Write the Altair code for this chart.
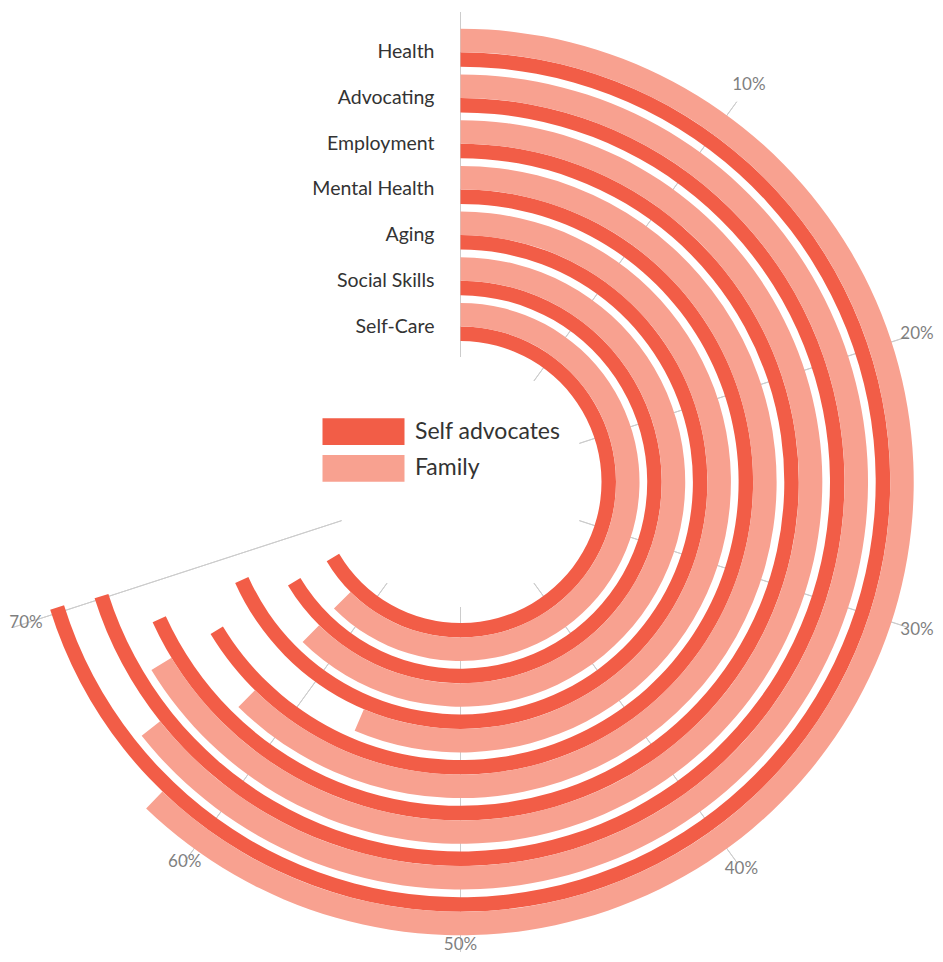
import altair as alt
import pandas as pd

# ---- data ----
categories = ["Health", "Advocating", "Employment", "Mental Health", "Aging", "Social Skills", "Self-Care"]
self_advocates = [70.2, 70.1, 68.2, 66.3, 68.3, 66.4, 66.5]
family = [62.2, 64.3, 66.3, 62.4, 56.4, 62.4, 62.5]
groups = ["Self advocates", "Family"]
grid_values = [0, 10, 20, 30, 40, 50, 60, 70]
tick_values = [10, 20, 30, 40, 50, 60, 70]

n = len(categories)
rows = []
for i, c in enumerate(categories):
    ring = n - 1 - i
    rows.append({"category": c, "group": groups[0], "value": self_advocates[i], "ring": ring})
    rows.append({"category": c, "group": groups[1], "value": family[i], "ring": ring})
bars = pd.DataFrame(rows)
cats = pd.DataFrame({"category": categories, "ring": [n - 1 - i for i in range(n)]})
grid = pd.DataFrame({"pct": grid_values})
ticks = pd.DataFrame({"pct": tick_values, "label": [f"{v}%" for v in tick_values]})
legend = pd.DataFrame({"group": groups})

# ---- layout / style ----
W, H = 927, 946
CX, CY = 452.5, 474
DARK_W = 0.317
LIGHT_END = 0.832
FONT = "Lato"

theta_scale = alt.Scale(domain=[0, 100], range=[0, 6.283185307179586])
radius_scale = alt.Scale(type="linear", domain=[0, n], range=[141, 141 + 45.7 * n])
color_scale = alt.Scale(domain=groups, range=["#F25D47", "#F8A190"])

grid_layer = alt.Chart(grid).mark_arc(stroke="#cccccc", strokeWidth=1, fill="#cccccc").encode(
    theta=alt.Theta("pct:Q", scale=theta_scale, stack=False),
    theta2="pct:Q",
    radius=alt.value(470),
    radius2=alt.value(125),
    x=alt.value(CX),
    y=alt.value(CY),
)

bar_layer = alt.Chart(bars).transform_calculate(
    start="0",
    r0=f"datum.group == '{groups[0]}' ? datum.ring : datum.ring + {DARK_W}",
    r1=f"datum.group == '{groups[0]}' ? datum.ring + {DARK_W} : datum.ring + {LIGHT_END}",
).mark_arc().encode(
    theta=alt.Theta("start:Q", scale=theta_scale, stack=False),
    theta2="value:Q",
    radius=alt.Radius("r1:Q", scale=radius_scale),
    radius2="r0:Q",
    color=alt.Color("group:N", scale=color_scale, legend=None),
    x=alt.value(CX),
    y=alt.value(CY),
)

cat_layer = alt.Chart(cats).transform_calculate(
    rb=f"datum.ring + {DARK_W}"
).mark_text(
    align="right", baseline="middle", dx=-26, font=FONT, fontSize=19.5, color="#333333"
).encode(
    theta=alt.value(0),
    radius=alt.Radius("rb:Q", scale=radius_scale),
    text="category:N",
    x=alt.value(CX),
    y=alt.value(CY),
)

# tick labels: placed outside the rings, kept inside the view
tick_layer = alt.Chart(ticks).transform_calculate(
    s="sin(2 * PI * datum.pct / 100)",
    c="cos(2 * PI * datum.pct / 100)",
).transform_calculate(
    rx=f"datum.s > 0.01 ? ({W} - 18 - {CX}) / datum.s : (datum.s < -0.01 ? ({CX} - 18) / (-datum.s) : 100000)",
    ry=f"datum.c < -0.01 ? ({H} - 9 - {CY}) / (-datum.c) : 100000",
).transform_calculate(
    lr="min(495 - 0.43 * datum.pct, datum.rx, datum.ry)"
).mark_text(
    align="center", baseline="middle", font=FONT, fontSize=17, color="#7f7f7f"
).encode(
    theta=alt.Theta("pct:Q", scale=theta_scale, stack=False),
    radius=alt.Radius("lr:Q", scale=None),
    text="label:N",
    x=alt.value(CX),
    y=alt.value(CY),
)

legend_y = alt.Y(
    "group:N",
    scale=alt.Scale(domain=groups, range=[410.3, 473.7], paddingInner=0.27, paddingOuter=0),
    axis=None,
)
legend_rect = alt.Chart(legend).mark_rect().encode(
    x=alt.value(314.5),
    x2=alt.value(396.5),
    y=legend_y,
    color=alt.Color("group:N", scale=color_scale, legend=None),
)
legend_text = alt.Chart(legend).mark_text(
    align="left", baseline="middle", font=FONT, fontSize=23, color="#333333"
).encode(
    x=alt.value(407),
    y=legend_y,
    text="group:N",
)

chart = alt.layer(
    grid_layer, bar_layer, cat_layer, tick_layer, legend_rect, legend_text
).properties(
    width=W, height=H, autosize=alt.AutoSizeParams(type="none"), padding=0
).configure_view(strokeWidth=0)

chart.save("out.html", embed_options={"renderer": "svg", "actions": False})
